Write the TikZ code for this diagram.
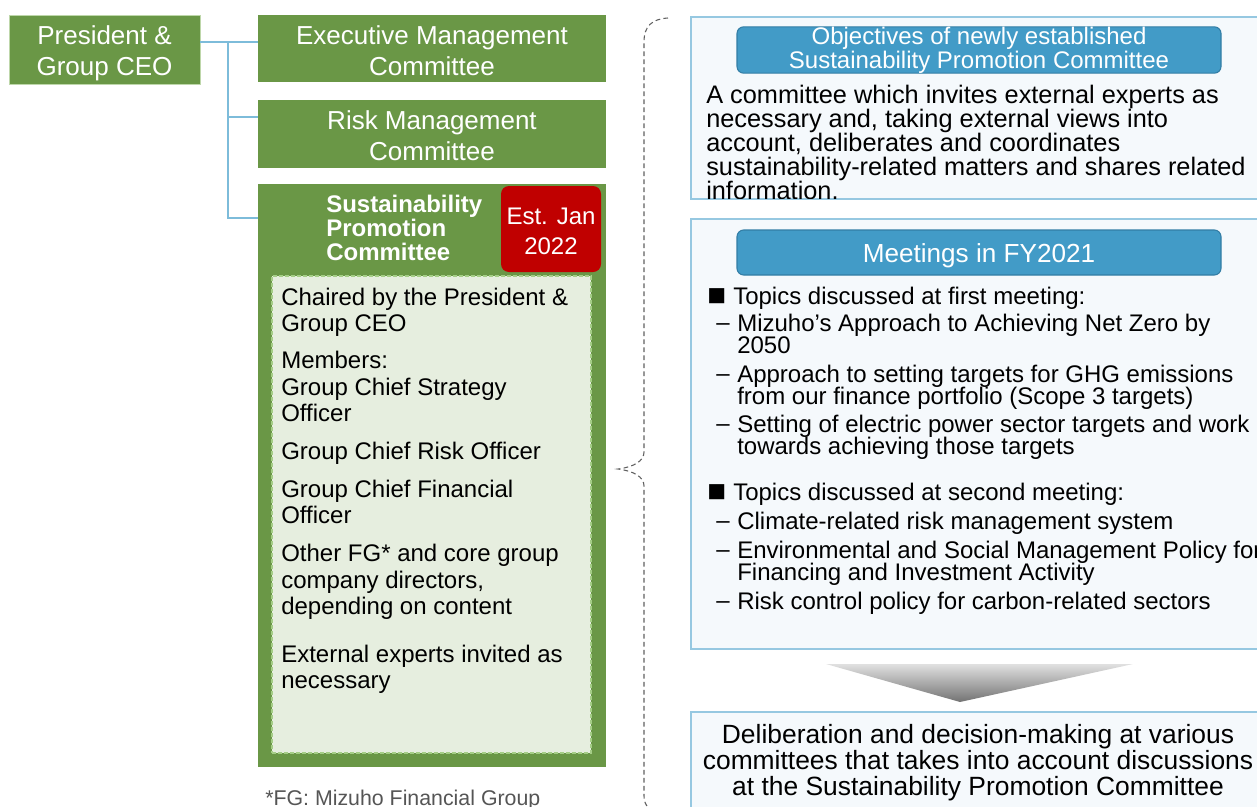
\documentclass[tikz,border=0pt]{standalone}
\usepackage{fontspec}
\setmainfont{Liberation Sans}
\definecolor{grn}{RGB}{106,151,70}
\definecolor{grnedge}{RGB}{190,215,170}
\definecolor{lgrn}{RGB}{230,238,223}
\definecolor{dgrn}{RGB}{165,205,135}
\definecolor{redb}{RGB}{192,0,0}
\definecolor{hblue}{RGB}{66,155,199}
\definecolor{hblueb}{RGB}{50,125,165}
\definecolor{pfill}{RGB}{245,249,252}
\definecolor{pbord}{RGB}{150,200,225}
\definecolor{connc}{RGB}{125,188,218}
\definecolor{bracec}{RGB}{95,95,95}
\definecolor{notec}{RGB}{85,85,85}
\newcommand\fz[2]{\fontsize{#1}{#2}\selectfont\lineskiplimit=-30pt\relax}
\newcommand\sqb{\makebox[19.5pt][l]{\raisebox{-0.3pt}{\scalebox{1.3}{■}}}}
\begin{document}
\begin{tikzpicture}[x=0.75pt,y=-0.75pt,
  gbox/.style={fill=grn, inner sep=0pt},
  gtext/.style={text=white, align=center, inner sep=0pt, font=\fz{19.5}{23.5}},
  panel/.style={draw=pbord, line width=1pt, fill=pfill, inner sep=0pt},
  hdr/.style={draw=hblueb, line width=0.8pt, fill=hblue, rounded corners=5pt, inner sep=0pt, text=white, align=center},
  txt/.style={anchor=north west, inner sep=0pt, align=left},
  conn/.style={draw=connc, line width=1.2pt},
  bracel/.style={draw=bracec, line width=0.8pt, dash pattern=on 3.5pt off 2.5pt}
]
\useasboundingbox (0,0) rectangle (1257,807);
\begin{scope}
\clip (0,0) rectangle (1257,807);

% ---------- left column ----------
\node[gbox, draw=grnedge, line width=0.6pt, minimum width=143.25pt, minimum height=51.75pt] (pres) at (104.5,49.5) {};
\node[gtext] (prest) at (104.5,53) {President \&\\Group CEO};
\node[gbox, minimum width=261pt, minimum height=50.25pt] (exec) at (432,48.5) {};
\node[gtext] (exect) at (432,50.5) {Executive Management\\Committee};
\node[gbox, minimum width=261pt, minimum height=51pt] (risk) at (432,134) {};
\node[gtext] (riskt) at (432,135.5) {Risk Management\\Committee};
\node[gbox, minimum width=261pt, minimum height=437.25pt] (sus) at (432,475.5) {};
\node[txt, text=white, font=\bfseries\fz{18}{18}] (sustitle) at (326,194.4) {Sustainability\\Promotion\\Committee};
\node[fill=redb, rounded corners=6pt, inner sep=0pt, minimum width=75pt, minimum height=64.5pt] (est) at (551,229) {};
\node[text=white, align=center, inner sep=0pt, font=\fz{18}{22.5}] (estt) at (551,231) {Est. Jan\\2022};
\node[fill=lgrn, draw=dgrn, line width=0.8pt, dash pattern=on 3pt off 1.5pt, inner sep=0pt, minimum width=239.25pt, minimum height=357.75pt] (inner) at (431.5,514.5) {};

\node[txt, font=\fz{18}{19.5}] (m1) at (281,287.6) {Chaired by the President \&\\Group CEO};
\node[txt, font=\fz{18}{19.9}] (m2) at (281,351) {Members:\\Group Chief Strategy\\Officer};
\node[txt, font=\fz{18}{19.5}] (m3) at (281,442) {Group Chief Risk Officer};
\node[txt, font=\fz{18}{19.5}] (m4) at (281,480) {Group Chief Financial\\Officer};
\node[txt, font=\fz{18}{19.9}] (m5) at (281,544) {Other FG* and core group\\company directors,\\depending on content};
\node[txt, font=\fz{18}{19.5}] (m6) at (281,645) {External experts invited as\\necessary};

\node[txt, font=\fz{16}{19}, text=notec] (note) at (265,789.5) {*FG: Mizuho Financial Group};

% connectors
\coordinate (c1) at (228,41.7);
\coordinate (c2) at (228,117);
\coordinate (c3) at (228,218);
\draw[conn] (pres.east |- c1) -- (exec.west |- c1);
\draw[conn] (c1) -- (c3) -- (sus.west |- c3);
\draw[conn] (c2) -- (risk.west |- c2);

% brace
\draw[bracel] (668,18) .. controls (652,19) and (644,26) .. (644,42) -- (644,452)
  .. controls (644,461) and (634,467) .. (618,469)
  .. controls (634,471) and (644,477) .. (644,486) -- (644,796)
  .. controls (644,806) and (650,811) .. (660,813);

% ---------- right column ----------
\node[panel, minimum width=434.25pt, minimum height=136.5pt] (p1) at (980.5,108) {};
\node[hdr, minimum width=363pt, minimum height=33.75pt, font=\fz{18}{18}] (h1) at (979,50) {Objectives of newly established\\Sustainability Promotion Committee};
\begin{scope}
\clip (691,17) rectangle (1257,198);
\node[txt, font=\fz{19}{18}] (obj) at (706,85) {A committee which invites external experts as\\necessary and, taking external views into\\account, deliberates and coordinates\\sustainability-related matters and shares related\\information.};
\end{scope}

\node[panel, minimum width=434.25pt, minimum height=322.5pt] (p2) at (980.5,434) {};
\node[hdr, minimum width=363pt, minimum height=33.75pt] (h2) at (979,252.5) {};
\node[inner sep=0pt, text=white, font=\fz{19.6}{20}] (h2t) at (979,255.5) {Meetings in FY2021};

\node[txt, font=\fz{18}{16.5}] (t1) at (707,287) {\sqb Topics discussed at first meeting:};
\node[txt, font=\fz{18}{16.5}] (d11) at (716,314) {\vphantom{A}–};
\node[txt, font=\fz{18}{16.5}] (i11) at (737,314) {Mizuho’s Approach to Achieving Net Zero by\\2050};
\node[txt, font=\fz{18}{16.5}] (d12) at (716,365) {\vphantom{A}–};
\node[txt, font=\fz{18}{16.5}] (i12) at (737,365) {Approach to setting targets for GHG emissions\\from our finance portfolio (Scope 3 targets)};
\node[txt, font=\fz{18}{16.5}] (d13) at (716,415) {\vphantom{A}–};
\node[txt, font=\fz{18}{16.5}] (i13) at (737,415) {Setting of electric power sector targets and work\\towards achieving those targets};

\node[txt, font=\fz{18}{16.5}] (t2) at (707,483) {\sqb Topics discussed at second meeting:};
\node[txt, font=\fz{18}{16.5}] (d21) at (716,512) {\vphantom{A}–};
\node[txt, font=\fz{18}{16.5}] (i21) at (737,512) {Climate-related risk management system};
\node[txt, font=\fz{18}{16.5}] (d22) at (716,541) {\vphantom{A}–};
\node[txt, font=\fz{18}{16.5}] (i22) at (737,541) {Environmental and Social Management Policy for\\Financing and Investment Activity};
\node[txt, font=\fz{18}{16.5}] (d23) at (716,592) {\vphantom{A}–};
\node[txt, font=\fz{18}{16.5}] (i23) at (737,592) {Risk control policy for carbon-related sectors};

% arrow triangle
\shade[top color=black!12, bottom color=black!55] (826,664) -- (1133,664) -- (960,702) -- cycle;

\node[panel, minimum width=434.25pt, minimum height=88.5pt] (p3) at (980.5,771) {};
\node[inner sep=0pt, align=center, font=\fz{19.8}{19.5}] (delib) at (978,763) {Deliberation and decision-making at various\\committees that takes into account discussions\\at the Sustainability Promotion Committee};
\end{scope}
\end{tikzpicture}
\end{document}
